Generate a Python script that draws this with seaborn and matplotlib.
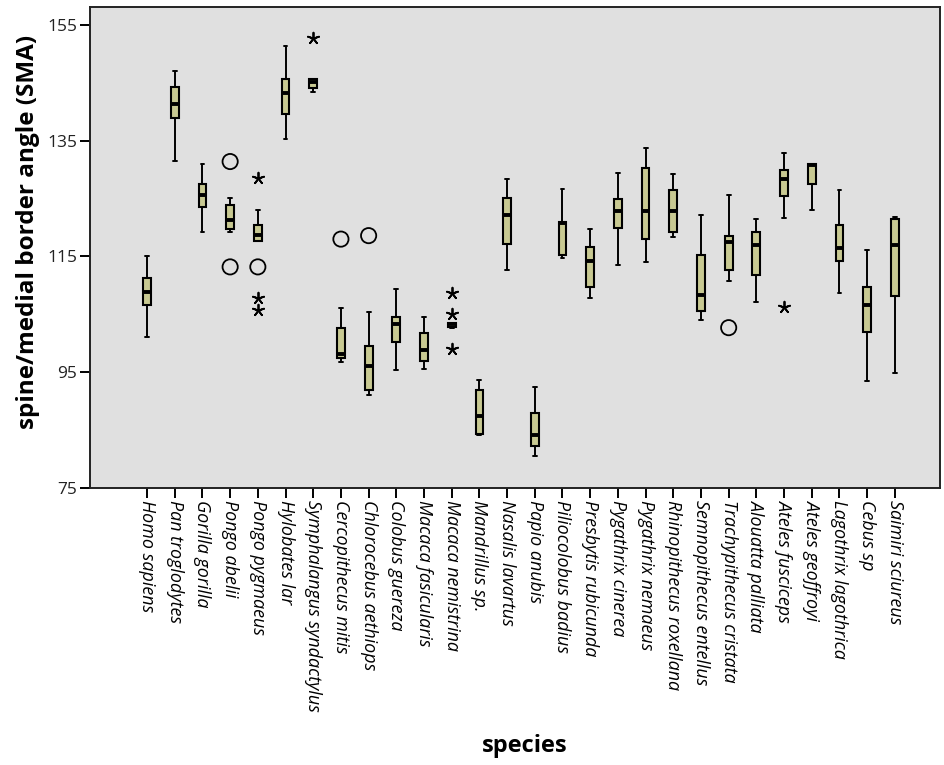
import numpy as np
import pandas as pd
import matplotlib
matplotlib.use("Agg")
import matplotlib.pyplot as plt
import seaborn as sns

species = ["Homo sapiens", "Pan troglodytes", "Gorilla gorilla", "Pongo abelii",
           "Pongo pygmaeus", "Hylobates lar", "Symphalangus syndactylus",
           "Cercopithecus mitis", "Chlorocebus aethiops", "Colobus guereza",
           "Macaca fasicularis", "Macaca nemistrina", "Mandrillus sp.",
           "Nasalis lavartus", "Papio anubis", "Piliocolobus badius",
           "Presbytis rubicunda", "Pygathrix cinerea", "Pygathrix nemaeus",
           "Rhinopithecus roxellana", "Semnopithecus entellus",
           "Trachypithecus cristata", "Alouatta palliata", "Ateles fusciceps",
           "Ateles geoffroyi", "Lagothrix lagothrica", "Cebus sp",
           "Saimiri sciureus"]

whisker_low = [101.1, 131.5, 119.3, 119.2, 117.7, 135.3, 143.5, 96.7, 91.0, 95.4,
               95.6, 102.7, 84.2, 112.6, 80.5, 114.8, 107.9, 113.5, 114.0, 118.4,
               104.1, 110.7, 107.2, 121.7, 123.0, 108.7, 93.5, 94.8]
q1 = [106.7, 139.0, 123.5, 119.7, 117.7, 139.7, 144.1, 97.4, 92.0, 100.3,
      97.0, 102.8, 84.4, 117.1, 82.2, 115.2, 109.8, 120.0, 118.0, 119.2,
      105.5, 112.7, 111.8, 125.4, 127.6, 114.2, 102.0, 108.1]
median = [108.9, 141.3, 125.6, 121.3, 118.7, 143.3, 145.2, 98.1, 96.1, 103.3,
          98.9, 103.3, 87.5, 122.2, 84.1, 120.7, 114.3, 122.8, 122.9, 122.8,
          108.4, 117.5, 116.9, 128.3, 130.8, 116.4, 106.7, 117.0]
q3 = [111.2, 144.2, 127.6, 123.9, 120.4, 145.7, 145.6, 102.7, 99.6, 104.5,
      101.7, 103.5, 92.0, 125.1, 87.9, 120.9, 116.7, 125.0, 130.2, 126.4,
      115.2, 118.6, 119.2, 129.9, 131.0, 120.5, 109.7, 121.4]
whisker_high = [115.0, 147.1, 131.0, 125.1, 123.0, 151.4, 145.6, 106.1, 105.4, 109.4,
                104.5, 103.5, 93.6, 128.3, 92.5, 126.7, 119.7, 129.5, 133.7, 129.3,
                122.2, 125.7, 121.5, 132.9, 131.0, 126.5, 116.2, 121.9]

outlier_species = ["Pongo abelii", "Pongo abelii", "Pongo pygmaeus",
                   "Cercopithecus mitis", "Chlorocebus aethiops",
                   "Trachypithecus cristata"]
outlier_values = [131.4, 113.2, 113.2, 118.0, 118.6, 102.7]

extreme_species = ["Pongo pygmaeus", "Pongo pygmaeus", "Pongo pygmaeus",
                   "Symphalangus syndactylus", "Macaca nemistrina",
                   "Macaca nemistrina", "Macaca nemistrina", "Ateles fusciceps"]
extreme_values = [128.5, 107.9, 105.7, 152.7, 108.7, 105.0, 99.0, 106.3]

yticks = [75, 95, 115, 135, 155]

# long-format table of five-number summaries (quartiles reproduce exactly for n=5)
rows = []
for i, sp in enumerate(species):
    for v in (whisker_low[i], q1[i], median[i], q3[i], whisker_high[i]):
        rows.append({"species": sp, "value": v})
df = pd.DataFrame(rows)
df_out = pd.DataFrame({"species": outlier_species, "value": outlier_values})
df_ext = pd.DataFrame({"species": extreme_species, "value": extreme_values})

sns.set_style("ticks")
plt.rcParams["font.family"] = ["Open Sans", "DejaVu Sans"]
plt.rcParams["text.color"] = "black"
plt.rcParams["xtick.color"] = "black"
plt.rcParams["ytick.color"] = "black"

fig = plt.figure(figsize=(9.45, 7.65), dpi=100)
ax = fig.add_axes([90 / 945, 1 - 488 / 765, 850 / 945, 481 / 765])
ax.set_facecolor("#e0e0e0")

sns.boxplot(data=df, x="species", y="value", order=species, whis=np.inf,
            width=0.28, color="#c8c992", saturation=1, linecolor="black",
            linewidth=1.5, showfliers=False, ax=ax,
            medianprops=dict(linewidth=2.8, color="black"),
            whiskerprops=dict(linewidth=1.4, color="black"),
            capprops=dict(linewidth=1.4, color="black"))

sns.scatterplot(data=df_out, x="species", y="value", ax=ax, marker="o", s=120,
                facecolor="none", edgecolor="black", linewidth=1.3, legend=False,
                zorder=5)
sns.scatterplot(data=df_ext, x="species", y="value", ax=ax, marker=(5, 2, 0),
                s=70, color="black", linewidth=1.3, legend=False, zorder=5)

ax.set_xlim(-2.06, 28.63)
ax.set_ylim(75, 158.1)
ax.set_yticks(yticks)
ax.set_yticklabels([str(t) for t in yticks], fontsize=12.5, color="#222222")
ax.set_xticks(range(len(species)))
ax.set_xticklabels(species, rotation=-90, fontsize=12.9, style="italic",
                   va="top", ha="center", color="black")
ax.tick_params(axis="both", direction="out", length=7, width=1.4, color="black",
               pad=2)
for s in ax.spines.values():
    s.set_visible(True)
    s.set_linewidth(1.4)
    s.set_color("#222222")
ax.set_xlabel("")
ax.set_ylabel("")
ax.grid(False)

fig.text(28 / 945, 1 - 232 / 765, "spine/medial border angle (SMA)", rotation=90,
         ha="center", va="center", fontsize=17.5, fontweight="bold")
fig.text(525 / 945, 1 - 746 / 765, "species", ha="center", va="center",
         fontsize=17, fontweight="bold")

fig.savefig("out.png", dpi=100, facecolor="white")
